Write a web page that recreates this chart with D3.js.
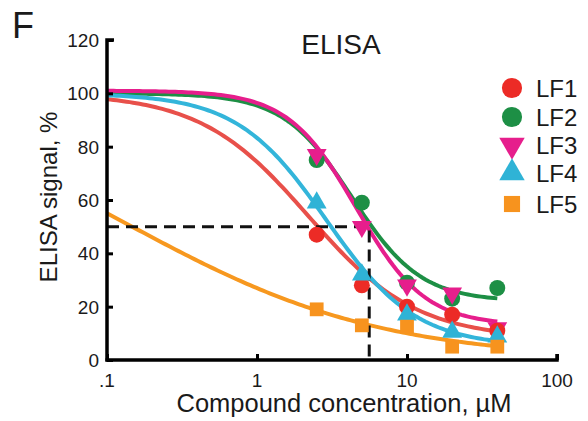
<!DOCTYPE html>
<html>
<head>
  <meta charset="utf-8">
  <script src="https://cdn.jsdelivr.net/npm/d3@7"></script>
  <style>
    body { margin: 0; background: #fff; }
    text { font-family: "Liberation Sans", Arial, sans-serif; fill: #1a1a1a; }
  </style>
</head>
<body>
<div id="chart"></div>
<script>
  // Data
  var conc = [2.5, 5, 10, 20, 40];
  var names = ["LF1", "LF2", "LF3", "LF4", "LF5"];
  var lf1 = [47, 28, 20, 17, 11];
  var lf2 = [75, 59, 29, 23, 27];
  var lf3 = [77, 50, 28, 25, 12];
  var lf4 = [59, 32, 17, 10.5, 8.7];
  var lf5 = [19, 13, 12.5, 5, 5];
  // dose-response fit per series (top, bottom, EC50, hill), estimated from the drawn curves
  var fitTop = [100, 100, 101, 100, 100];
  var fitBottom = [8, 22, 13, 5, 0];
  var fitEC50 = [2.2, 4.3, 4.6, 2.9, 0.147];
  var fitHill = [1.2, 1.9, 1.9, 1.45, 0.52];
  var colors = ["#ec2b26", "#1d8f45", "#e61e8c", "#2fb3d6", "#f7931e"];
  var lineColors = ["#e8504a", "#1d8f45", "#e61e8c", "#33b5da", "#f7981f"];
  var shapes = ["circle", "circle", "down", "up", "square"];
  var yTicks = [0, 20, 40, 60, 80, 100, 120];
  var xTicks = [0.1, 1, 10, 100];
  var xTickLabels = [".1", "1", "10", "100"];
  var halfLine = 50, halfConc = 5.6;

  var series = [lf1, lf2, lf3, lf4, lf5];

  var width = 588, height = 421;
  var svg = d3.select("#chart").append("svg")
      .attr("width", width).attr("height", height);

  var x = d3.scaleLog().domain([0.1, 100]).range([107, 557]);
  var y = d3.scaleLinear().domain([0, 120]).range([360, 40]);

  function symbolFor(s, size) {
    var t = s === "circle" ? d3.symbolCircle : s === "square" ? d3.symbolSquare : d3.symbolTriangle;
    return d3.symbol().type(t).size(size)();
  }
  function rot(s) { return s === "down" ? " rotate(180)" : ""; }

  // panel letter + title
  svg.append("text").attr("x", 12).attr("y", 38).style("font-size", "36px").text("F");
  svg.append("text").attr("x", 341).attr("y", 54).attr("text-anchor", "middle")
      .style("font-size", "28px").text("ELISA");

  // fitted curves
  var line = d3.line().x(function(d) { return x(d[0]); }).y(function(d) { return y(d[1]); });
  var drawOrder = [1, 2, 0, 3, 4];
  drawOrder.forEach(function(i) {
    var pts = d3.range(0, 121).map(function(k) {
      var c = Math.pow(10, -1 + k * (Math.log10(40) + 1) / 120);
      return [c, fitBottom[i] + (fitTop[i] - fitBottom[i]) / (1 + Math.pow(c / fitEC50[i], fitHill[i]))];
    });
    svg.append("path").datum(pts).attr("d", line)
      .attr("fill", "none").attr("stroke", lineColors[i]).attr("stroke-width", 4);
  });

  // 50% guide lines
  svg.append("path")
    .attr("d", "M" + x(0.1) + "," + y(halfLine) + "H" + x(halfConc) + "V" + y(0))
    .attr("fill", "none").attr("stroke", "#111").attr("stroke-width", 3)
    .attr("stroke-dasharray", "12,7");

  // data markers
  drawOrder.forEach(function(i) {
    svg.append("g").selectAll("path").data(series[i]).enter().append("path")
      .attr("d", symbolFor(shapes[i], shapes[i] === "square" ? 190 : shapes[i] === "circle" ? 200 : 170))
      .attr("transform", function(d, j) { return "translate(" + x(conc[j]) + "," + y(d) + ")" + rot(shapes[i]); })
      .attr("fill", colors[i]);
  });

  // axes
  var yAxis = d3.axisRight(y).tickValues(yTicks).tickSize(6).tickFormat("");
  var gy = svg.append("g").attr("transform", "translate(" + x(0.1) + ",0)").call(yAxis);
  var xAxis = d3.axisTop(x).tickValues(xTicks).tickSize(6).tickFormat("");
  var gx = svg.append("g").attr("transform", "translate(0," + y(0) + ")").call(xAxis);
  [gx, gy].forEach(function(g) {
    g.select(".domain").attr("stroke", "#000").attr("stroke-width", 3.5);
    g.selectAll(".tick line").attr("stroke", "#000").attr("stroke-width", 3);
  });
  gy.select(".domain").attr("d", "M" + 7 + "," + y(120) + "H0V" + (y(0) + 1.5));
  gx.select(".domain").attr("d", "M" + (x(0.1) - 1.5) + ",0H" + x(100) + "V-6");

  svg.append("g").selectAll("text").data(yTicks).enter().append("text")
    .attr("x", 99).attr("y", function(d) { return y(d) + 7; })
    .attr("text-anchor", "end").style("font-size", "19px").text(function(d) { return d; });
  svg.append("g").selectAll("text").data(xTicks).enter().append("text")
    .attr("x", function(d) { return x(d); }).attr("y", 387)
    .attr("text-anchor", "middle").style("font-size", "19px")
    .text(function(d, i) { return xTickLabels[i]; });

  // axis titles
  svg.append("text").attr("x", 344).attr("y", 412).attr("text-anchor", "middle")
    .style("font-size", "25.5px").text("Compound concentration, \u00b5M");
  svg.append("text").attr("transform", "translate(57,197) rotate(-90)")
    .attr("text-anchor", "middle").style("font-size", "24px").text("ELISA signal, %");

  // legend
  var legY = [88, 117, 145, 173, 204];
  names.forEach(function(n, i) {
    svg.append("path")
      .attr("d", symbolFor(shapes[i], shapes[i] === "square" ? 260 : shapes[i] === "circle" ? 320 : 280))
      .attr("transform", "translate(512," + legY[i] + ")" + rot(shapes[i]))
      .attr("fill", colors[i]);
    svg.append("text").attr("x", 536).attr("y", legY[i] + 9)
      .style("font-size", "24px").text(n);
  });
</script>
</body>
</html>
